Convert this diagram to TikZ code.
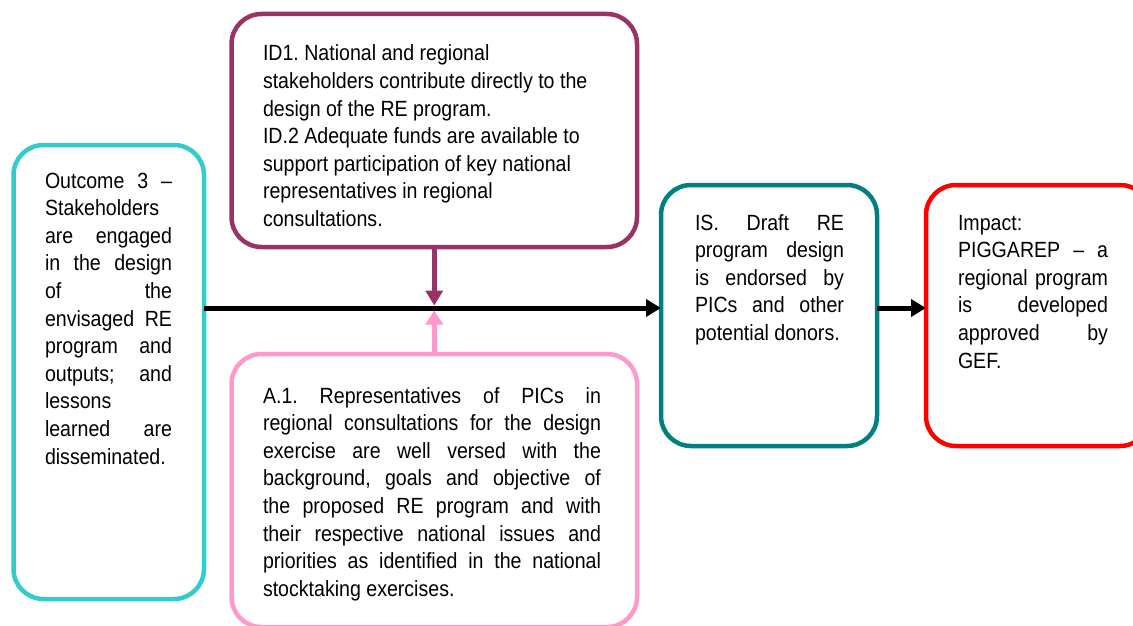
\documentclass[tikz,border=0pt]{standalone}
\usepackage{fontspec}
\setmainfont[FakeStretch=0.89]{Liberation Sans}
\usetikzlibrary{arrows.meta}
\definecolor{cyanc}{HTML}{33CCCC}
\definecolor{purc}{HTML}{993366}
\definecolor{pinkc}{HTML}{FF99CC}
\definecolor{tealc}{HTML}{008080}
\definecolor{redc}{HTML}{FF0000}
\frenchspacing
\newcommand\jl[1]{\hbox to \hsize{\spaceskip=0.25em plus 1fil\relax #1}}
\newcommand\nl[1]{\hbox{#1}}
\newcommand\boxfont{\fontsize{22}{27.6}\selectfont\frenchspacing}
\begin{document}
\begin{tikzpicture}[x=1pt,y=-1pt,
  frame/.style={draw, line width=4.5pt, rounded corners=30pt, inner sep=0pt, outer sep=0pt, anchor=north west},
  txt/.style={anchor=base west, inner sep=0pt, outer sep=0pt},
  conn/.style={line width=5pt, -{Triangle[length=15pt,width=17pt]}}]
\useasboundingbox (0,0) rectangle (1133,626);
\clip (0,0) rectangle (1133,626);
\fill[white] (0,0) rectangle (1133,626);
% boxes
\node[frame, draw=cyanc, minimum width=190.5pt, minimum height=454pt] (out) at (13.5,145) {};
\node[frame, draw=purc, minimum width=405.5pt, minimum height=233pt] (id) at (231.5,14) {};
\node[frame, draw=pinkc, minimum width=405.5pt, minimum height=273pt] (ass) at (231.5,354) {};
\node[frame, draw=tealc, minimum width=216pt, minimum height=261pt] (is) at (661,185) {};
\node[frame, draw=redc, minimum width=224pt, minimum height=261pt] (imp) at (926,185) {};
% texts
\node[txt] (outT) at (45,188) {\parbox[t]{127pt}{\boxfont
\jl{Outcome 3 –}
\nl{Stakeholders}
\jl{are engaged}
\jl{in the design}
\jl{of the}
\jl{envisaged RE}
\jl{program and}
\jl{outputs; and}
\nl{lessons}
\jl{learned are}
\nl{disseminated.}}};
\node[txt] (idT) at (263,61) {\parbox[t]{360pt}{\boxfont
\nl{ID1. National and regional}
\nl{stakeholders contribute directly to the}
\nl{design of the RE program.}
\nl{ID.2 Adequate funds are available to}
\nl{support participation of key national}
\nl{representatives in regional}
\nl{consultations.}}};
\node[txt] (assT) at (263,403) {\parbox[t]{338pt}{\boxfont
\jl{A.1. Representatives of PICs in}
\jl{regional consultations for the design}
\jl{exercise are well versed with the}
\jl{background, goals and objective of}
\jl{the proposed RE program and with}
\jl{their respective national issues and}
\jl{priorities as identified in the national}
\nl{stocktaking exercises.}}};
\node[txt] (isT) at (695,230) {\parbox[t]{149pt}{\boxfont
\jl{IS. Draft RE}
\jl{program design}
\jl{is endorsed by}
\jl{PICs and other}
\nl{potential donors.}}};
\node[txt] (impT) at (958,230) {\parbox[t]{150pt}{\boxfont
\nl{Impact:}
\jl{PIGGAREP – a}
\jl{regional program}
\jl{is developed}
\jl{approved by}
\nl{GEF.}}};
% connectors
\coordinate (m) at (0,308);
\coordinate (mtop) at (0,305.5);
\coordinate (mbot) at (0,310.5);
\draw[conn, black] (out.east |- m) -- (is.west |- m);
\draw[conn, black] (is.east |- m) -- (imp.west |- m);
\draw[conn, purc, line width=4.5pt] (id.south) -- (id.south |- mtop);
\draw[conn, pinkc, line width=4.5pt, -{Triangle[length=14pt,width=17pt]}] (ass.north) -- (ass.north |- mbot);
\end{tikzpicture}
\end{document}
